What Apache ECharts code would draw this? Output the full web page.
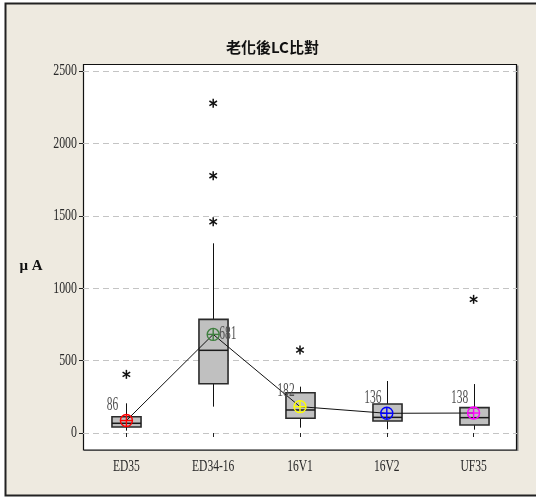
<!DOCTYPE html>
<html>
<head>
<meta charset="utf-8">
<script src="https://cdn.jsdelivr.net/npm/echarts@6/dist/echarts.min.js"></script>
<style>
  html, body { margin: 0; padding: 0; background: #ffffff; }
  #chart { width: 536px; height: 499px; }
</style>
</head>
<body>
<div id="chart"></div>
<script>
// Leakage current after ageing, per group (μA)
const categories  = ['ED35', 'ED34-16', '16V1', '16V2', 'UF35'];
const whiskerLow  = [16, 182, 37, 26, 23];
const q1          = [41, 340, 102, 83, 55];
const median      = [67, 571, 159, 108, 106];
const q3          = [112, 785, 278, 200, 175];
const whiskerHigh = [205, 1310, 320, 359, 338];
const means       = [86, 681, 182, 136, 138];
const outliers    = [[0, 405], [1, 1459], [1, 1777], [1, 2277], [2, 573], [4, 923]];
const yTickLabels = ['0', '500', '1000', '1500', '2000', '2500'];
const yRange      = { min: 0, max: 2500, interval: 500 };

// look
const SERIF = '"Liberation Serif", "Times New Roman", serif';
const meanColors = ['#ff0000', '#3f7f3f', '#ffff00', '#0000ff', '#ff00ff'];
const meanLabelRight = [false, true, false, false, false];

const chart = echarts.init(document.getElementById('chart'), null, { renderer: 'canvas' });

function renderBox(params, api) {
  const i = api.value(0);
  const lo = api.coord([i, api.value(1)]);
  const b1 = api.coord([i, api.value(2)]);
  const md = api.coord([i, api.value(3)]);
  const b3 = api.coord([i, api.value(4)]);
  const hi = api.coord([i, api.value(5)]);
  const w = api.size([1, 0])[0] * 0.335;
  const x = Math.round(lo[0]) + 0.5;
  return {
    type: 'group',
    children: [
      { type: 'line', shape: { x1: x, y1: hi[1], x2: x, y2: lo[1] },
        style: { stroke: '#111', lineWidth: 1 } },
      { type: 'rect', shape: { x: x - w / 2, y: b3[1], width: w, height: b1[1] - b3[1] },
        style: { fill: '#c0c0c0', stroke: '#2a2a2a', lineWidth: 1.6 } },
      { type: 'line', shape: { x1: x - w / 2, y1: md[1], x2: x + w / 2, y2: md[1] },
        style: { stroke: '#1a1a1a', lineWidth: 1.5 } }
    ]
  };
}

function renderMean(params, api) {
  const i = params.dataIndex;
  const p = api.coord([api.value(0), api.value(1)]);
  const c = meanColors[i];
  const r = 6;
  const right = meanLabelRight[i];
  return {
    type: 'group',
    children: [
      { type: 'circle', shape: { cx: p[0], cy: p[1], r: r },
        style: { fill: 'none', stroke: c, lineWidth: 1.4 } },
      { type: 'line', shape: { x1: p[0] - r, y1: p[1], x2: p[0] + r, y2: p[1] },
        style: { stroke: c, lineWidth: 1.4 } },
      { type: 'line', shape: { x1: p[0], y1: p[1] - r, x2: p[0], y2: p[1] + r },
        style: { stroke: c, lineWidth: 1.4 } },
      { type: 'text',
        x: right ? p[0] + 6 : p[0] - 14,
        y: right ? p[1] : p[1] - 15,
        scaleX: 0.64,
        style: {
          text: String(api.value(1)),
          x: 0, y: 0,
          fill: '#505050',
          font: '18px ' + SERIF,
          align: right ? 'left' : 'center',
          verticalAlign: 'middle'
        } }
    ]
  };
}

function renderStar(params, api) {
  const p = api.coord([api.value(0), api.value(1)]);
  const s = { stroke: '#111', lineWidth: 1.5 };
  return {
    type: 'group',
    children: [
      { type: 'line', shape: { x1: p[0], y1: p[1] - 4.5, x2: p[0], y2: p[1] + 4.5 }, style: s },
      { type: 'line', shape: { x1: p[0] - 3.8, y1: p[1] - 2.3, x2: p[0] + 3.8, y2: p[1] + 2.3 }, style: s },
      { type: 'line', shape: { x1: p[0] - 3.8, y1: p[1] + 2.3, x2: p[0] + 3.8, y2: p[1] - 2.3 }, style: s }
    ]
  };
}

const option = {
  backgroundColor: '#ffffff',
  animation: false,
  title: {
    text: '老化後LC比對',
    left: 221,
    top: 35,
    textStyle: { fontFamily: '"Noto Sans CJK TC", sans-serif', fontSize: 15, fontWeight: 'bold', color: '#111' }
  },
  graphic: {
    elements: [
      // outer panel
      { id: 'panel', type: 'rect', z: -30, silent: true,
        shape: { x: 5.5, y: 3.5, width: 540, height: 492 },
        style: { fill: '#eeeae0', stroke: '#222', lineWidth: 2 } },
      // plot frame shadow
      { id: 'shadow', type: 'rect', z: -25, silent: true,
        shape: { x: 84, y: 65.5, width: 434.5, height: 385.5 },
        style: { fill: '#8a8a8a' } },
      // plot frame
      { id: 'frame', type: 'rect', z: -20, silent: true,
        shape: { x: 83.5, y: 64.5, width: 433, height: 385.5 },
        style: { fill: '#ffffff', stroke: '#111', lineWidth: 1.2 } },
      { id: 'yname', type: 'text', z: 5,
        style: { text: 'μ A', x: 31, y: 266, align: 'center', verticalAlign: 'middle',
                 font: 'bold 15px "Liberation Serif", serif', fill: '#111' } }
    ]
  },
  grid: { left: 83, right: 19, top: 71, bottom: 66 },
  xAxis: {
    type: 'category',
    data: categories,
    offset: 17,
    axisLine: { show: false },
    axisTick: { show: true, alignWithLabel: true, length: 4, lineStyle: { color: '#222' } },
    axisLabel: { show: false },
    splitLine: { show: false }
  },
  yAxis: {
    type: 'value',
    min: yRange.min,
    max: yRange.max,
    interval: yRange.interval,
    axisLine: { show: false },
    axisTick: { show: true, length: 4, lineStyle: { color: '#222' } },
    axisLabel: { show: false },
    splitLine: { show: true, lineStyle: { color: '#c4c4c4', type: [6, 4], width: 1 } }
  },
  series: [
    {
      type: 'custom',
      name: 'box',
      renderItem: renderBox,
      encode: { x: 0, y: [1, 2, 3, 4, 5] },
      data: categories.map((c, i) => [i, whiskerLow[i], q1[i], median[i], q3[i], whiskerHigh[i]]),
      z: 2
    },
    {
      type: 'custom',
      name: 'outlier',
      renderItem: renderStar,
      encode: { x: 0, y: 1 },
      data: outliers,
      z: 3
    },
    {
      type: 'line',
      name: 'mean',
      data: means,
      symbol: 'none',
      lineStyle: { color: '#111', width: 1 },
      z: 4
    },
    {
      type: 'custom',
      name: 'meanMarker',
      renderItem: renderMean,
      encode: { x: 0, y: 1 },
      data: means.map((m, i) => [i, m]),
      z: 5
    }
  ]
};

chart.setOption(option);

// Axis tick labels in a narrow serif, placed through the axes' own scales
const labelEls = [];
const axisBottom = chart.convertToPixel({ yAxisIndex: 0 }, yRange.min) + 17;
categories.forEach((c, i) => {
  const px = chart.convertToPixel({ xAxisIndex: 0 }, c);
  labelEls.push({
    id: 'xl' + i, type: 'text', z: 5, silent: true,
    x: px, y: axisBottom + 17, scaleX: 0.68,
    style: { text: c, x: 0, y: 0, align: 'center', verticalAlign: 'middle',
             font: '17px ' + SERIF, fill: '#2a2a2a' }
  });
});
yTickLabels.forEach((t, i) => {
  const py = chart.convertToPixel({ yAxisIndex: 0 }, Number(t));
  labelEls.push({
    id: 'yl' + i, type: 'text', z: 5, silent: true,
    x: 77, y: py, scaleX: 0.7,
    style: { text: t, x: 0, y: 0, align: 'right', verticalAlign: 'middle',
             font: '17px ' + SERIF, fill: '#2a2a2a' }
  });
});
chart.setOption({ graphic: { elements: labelEls } });
</script>
</body>
</html>
